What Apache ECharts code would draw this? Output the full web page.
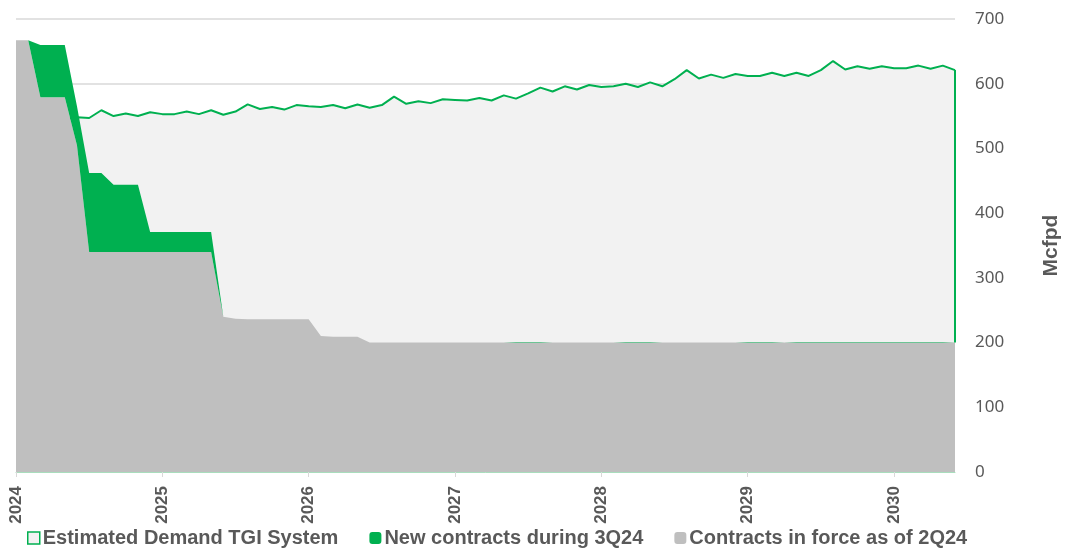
<!DOCTYPE html>
<html>
<head>
<meta charset="utf-8">
<script src="https://cdn.jsdelivr.net/npm/echarts@6/dist/echarts.min.js"></script>
<style>
    html, body { margin: 0; padding: 0; background: #fff; }
    #main { width: 1066px; height: 548px; }
</style>
</head>
<body>
<div id="main"></div>
<script>
// months Jan 2024 .. Jun 2030
var months = [];
for (var y = 2024; y <= 2030; y++) {
    for (var m = 1; m <= 12; m++) {
        if (y === 2030 && m > 6) break;
        months.push(y + '-' + (m < 10 ? '0' + m : m));
    }
}

// Estimated Demand TGI System (Mcfpd)
var demand = [545, 545, 545, 545, 545, 548, 547, 559, 550, 554, 550, 556,
    553, 553, 557, 553, 559, 552, 557, 568, 561, 564, 560, 567,
    565, 564, 567, 562, 568, 563, 567, 580, 569, 573, 570, 576,
    575, 574, 578, 574, 582, 577, 585, 594, 588, 596, 591, 598,
    595, 596, 600, 595, 602, 596, 607, 621, 608, 614, 609, 615,
    612, 612, 617, 612, 617, 612, 621, 635, 622, 627, 623, 627,
    624, 624, 628, 623, 628, 621];

// Contracts in force as of 2Q24
var inForce = [667, 667, 579, 579, 579, 505, 340, 340, 340, 340, 340, 340,
    340, 340, 340, 340, 340, 240, 237, 236, 236, 236, 236, 236,
    236, 210, 209, 209, 209, 200, 200, 200, 200, 200, 200, 200,
    200, 200, 200, 200, 200, 200, 200, 200, 200, 200, 200, 200,
    200, 200, 200, 200, 200, 200, 200, 200, 200, 200, 200, 200,
    200, 200, 200, 200, 200, 200, 200, 200, 200, 200, 200, 200,
    200, 200, 200, 200, 200, 200];

// New contracts during 3Q24 (stacked on top)
var newContracts = [0, 0, 81, 81, 81, 60, 122, 122, 104, 104, 104, 31,
    31, 31, 31, 31, 31, 0, 0, 0, 0, 0, 0, 0,
    0, 0, 0, 0, 0, 0, 0, 0, 0, 0, 0, 0,
    0, 0, 0, 0, 0, 1, 1, 1, 0, 0, 0, 0,
    0, 0, 1, 1, 1, 0, 0, 0, 0, 0, 0, 0,
    1, 1, 1, 0, 1, 1, 1, 1, 1, 1, 1, 1,
    1, 1, 1, 1, 1, 0];

var yTicks = { min: 0, max: 700, step: 100 };

var seriesNames = ['Estimated Demand TGI System', 'New contracts during 3Q24', 'Contracts in force as of 2Q24'];

var green = '#00B050';
var grey = '#BFBFBF';
var lightFill = '#F2F2F2';
var textCol = '#595959';

function isYearStart(idx) {
    return idx % 12 === 0;
}

var last = months.length - 1;

var myChart = echarts.init(document.getElementById('main'));

var option = {
    animation: false,
    grid: {
        left: 16,
        right: 111,
        top: 19,
        bottom: 76,
        outerBoundsMode: 'none'
    },
    legend: {
        left: 22,
        top: 523,
        itemWidth: 12,
        itemHeight: 12,
        itemGap: 31,
        textStyle: {
            color: textCol,
            fontSize: 20,
            fontWeight: 'bold',
            fontFamily: 'Liberation Sans',
            padding: [0, 0, 0, -2]
        },
        data: [
            {name: seriesNames[0], icon: 'rect', itemStyle: {color: lightFill, borderColor: green, borderWidth: 1.5}},
            {name: seriesNames[1], icon: 'roundRect', itemStyle: {color: green}},
            {name: seriesNames[2], icon: 'roundRect', itemStyle: {color: grey}}
        ]
    },
    xAxis: {
        type: 'category',
        boundaryGap: false,
        data: months,
        axisLine: {
            lineStyle: {color: '#A9DDBD', width: 1}
        },
        axisTick: {
            show: true,
            interval: function (idx) { return isYearStart(idx); },
            length: 5,
            lineStyle: {color: '#D9D9D9'}
        },
        axisLabel: {
            interval: function (idx) { return isYearStart(idx); },
            rotate: 90,
            margin: 14,
            color: textCol,
            fontSize: 17,
            fontWeight: 'bold',
            fontFamily: 'Liberation Sans',
            formatter: function (v) { return v.slice(0, 4); }
        },
        splitLine: {show: false}
    },
    yAxis: {
        type: 'value',
        position: 'right',
        min: yTicks.min,
        max: yTicks.max,
        interval: yTicks.step,
        name: 'Mcfpd',
        nameLocation: 'middle',
        nameRotate: 90,
        nameGap: 86,
        nameTextStyle: {
            color: textCol,
            fontSize: 21,
            fontWeight: 'bold',
            fontFamily: 'Liberation Sans'
        },
        axisLine: {show: false},
        axisTick: {show: false},
        axisLabel: {
            margin: 20,
            color: textCol,
            fontSize: 17,
            fontFamily: 'Noto Sans'
        },
        splitLine: {
            lineStyle: {color: '#D9D9D9', width: 1.5}
        }
    },
    series: [
        {
            name: seriesNames[0],
            type: 'line',
            z: 2,
            data: demand,
            symbol: 'none',
            lineStyle: {color: green, width: 2},
            itemStyle: {color: green},
            areaStyle: {color: lightFill, opacity: 1},
            markLine: {
                silent: true,
                symbol: 'none',
                label: {show: false},
                lineStyle: {color: green, width: 2, type: 'solid'},
                data: [[
                    {coord: [months[last], demand[last]]},
                    {coord: [months[last], inForce[last] + newContracts[last]]}
                ]]
            }
        },
        {
            name: seriesNames[2],
            type: 'line',
            z: 3,
            stack: 'contracts',
            data: inForce,
            symbol: 'none',
            lineStyle: {width: 0},
            itemStyle: {color: grey},
            areaStyle: {color: grey, opacity: 1}
        },
        {
            name: seriesNames[1],
            type: 'line',
            z: 3,
            stack: 'contracts',
            data: newContracts,
            symbol: 'none',
            lineStyle: {width: 0},
            itemStyle: {color: green},
            areaStyle: {color: green, opacity: 1}
        }
    ]
};

myChart.setOption(option);
</script>
</body>
</html>
